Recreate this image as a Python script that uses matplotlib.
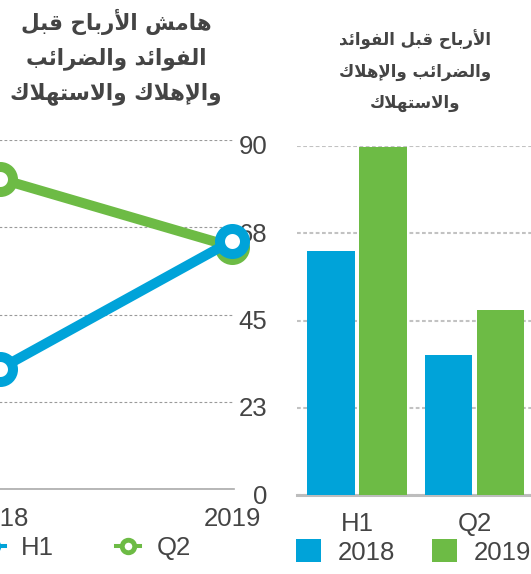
import matplotlib
matplotlib.use("Agg")
import matplotlib.pyplot as plt
import matplotlib.transforms as mtransforms
from matplotlib.lines import Line2D

#---------------------------------------------
'''DATA'''
#---------------------------------------------
years = ['2018', '2019']
h1_margin = [31, 64]
q2_margin = [80, 62.5]

periods = ['H1', 'Q2']
ebitda_2018 = [63, 36]
ebitda_2019 = [89.7, 47.7]

y_ticks = [0, 22.5, 45, 67.5, 90]
y_tick_labels = ['0', '23', '45', '68', '90']

title_left = ['هامش الأرباح قبل', 'الفوائد والضرائب', 'والإهلاك والاستهلاك']
title_right = ['الأرباح قبل الفوائد', 'والضرائب والإهلاك', 'والاستهلاك']

blue = '#00a3d9'
green = '#6dbb45'
txt = '#444444'

#---------------------------------------------
'''ARABIC SHAPING (no bidi libs available)'''
#---------------------------------------------
# iso, final, initial, medial
FORMS = {
    '\u0627': ('\uFE8D', '\uFE8E', None, None),
    '\u0623': ('\uFE83', '\uFE84', None, None),
    '\u0625': ('\uFE87', '\uFE88', None, None),
    '\u0628': ('\uFE8F', '\uFE90', '\uFE91', '\uFE92'),
    '\u062A': ('\uFE95', '\uFE96', '\uFE97', '\uFE98'),
    '\u062D': ('\uFEA1', '\uFEA2', '\uFEA3', '\uFEA4'),
    '\u062F': ('\uFEA9', '\uFEAA', None, None),
    '\u0631': ('\uFEAD', '\uFEAE', None, None),
    '\u0633': ('\uFEB1', '\uFEB2', '\uFEB3', '\uFEB4'),
    '\u0634': ('\uFEB5', '\uFEB6', '\uFEB7', '\uFEB8'),
    '\u0636': ('\uFEBD', '\uFEBE', '\uFEBF', '\uFEC0'),
    '\u0641': ('\uFED1', '\uFED2', '\uFED3', '\uFED4'),
    '\u0642': ('\uFED5', '\uFED6', '\uFED7', '\uFED8'),
    '\u0643': ('\uFED9', '\uFEDA', '\uFEDB', '\uFEDC'),
    '\u0644': ('\uFEDD', '\uFEDE', '\uFEDF', '\uFEE0'),
    '\u0645': ('\uFEE1', '\uFEE2', '\uFEE3', '\uFEE4'),
    '\u0647': ('\uFEE9', '\uFEEA', '\uFEEB', '\uFEEC'),
    '\u0648': ('\uFEED', '\uFEEE', None, None),
    '\u0626': ('\uFE89', '\uFE8A', '\uFE8B', '\uFE8C'),
}
LAM_ALEF = {'\u0627': ('\uFEFB', '\uFEFC'),
            '\u0623': ('\uFEF7', '\uFEF8'),
            '\u0625': ('\uFEF9', '\uFEFA')}


def dual(c):
    return c in FORMS and FORMS[c][2] is not None


def shape(text):
    out = []
    i, n = 0, len(text)
    while i < n:
        c = text[i]
        if c not in FORMS:
            out.append(c)
            i += 1
            continue
        join_prev = i > 0 and dual(text[i - 1])
        if c == '\u0644' and i + 1 < n and text[i + 1] in LAM_ALEF:
            iso, fin = LAM_ALEF[text[i + 1]]
            out.append(fin if join_prev else iso)
            i += 2
            continue
        join_next = dual(c) and i + 1 < n and text[i + 1] in FORMS
        iso, fin, ini, med = FORMS[c]
        if join_prev and join_next:
            out.append(med)
        elif join_prev:
            out.append(fin)
        elif join_next:
            out.append(ini)
        else:
            out.append(iso)
        i += 1
    return ''.join(reversed(out))


#---------------------------------------------
'''LAYOUT HELPERS (pixel -> figure fraction)'''
#---------------------------------------------
W, H = 531, 574
fig = plt.figure(figsize=(W / 100, H / 100), dpi=100)
plt.rcParams['font.family'] = ['Liberation Sans', 'DejaVu Sans']


def fx(px):
    return px / W


def fy(py):
    return 1 - py / H


fs = 18.5

#---------------------------------------------
'''LEFT: LINE CHART'''
#---------------------------------------------
ax1 = fig.add_axes([fx(-270), fy(489), (234 + 270) / W, (489 - 140) / H])
ax1.set_xlim(-270 / 232, 234 / 232)
ax1.set_ylim(0, 90)
x = range(len(years))
ax1.plot(x, q2_margin, color=green, lw=7.2, marker='o', ms=18, mew=7.2,
         mfc='white', mec=green, clip_on=False, zorder=3)
ax1.plot(x, h1_margin, color=blue, lw=7.2, marker='o', ms=18, mew=7.2,
         mfc='white', mec=blue, clip_on=False, zorder=4)
ax1.set_xticks(list(x), years)
ax1.yaxis.tick_right()
ax1.set_yticks(y_ticks, y_tick_labels)
ax1.tick_params(axis='y', length=0, pad=24, labelsize=fs, labelcolor=txt)
ax1.tick_params(axis='x', length=0, pad=13, labelsize=fs, labelcolor=txt)
off = mtransforms.ScaledTranslation(0, -5 / 100, fig.dpi_scale_trans)
for lab in ax1.get_yticklabels():
    lab.set_ha('right')
    lab.set_transform(lab.get_transform() + off)
ax1.grid(axis='y', color='#9a9a9a', lw=0.8, ls=(0, (2.5, 2)))
ax1.grid(axis='x', visible=False)
for s in ['top', 'left', 'right']:
    ax1.spines[s].set_visible(False)
ax1.spines['bottom'].set_color('#aaaaaa')
ax1.spines['bottom'].set_linewidth(1.2)
ax1.set_facecolor('none')

handles1 = [Line2D([], [], color=blue, lw=2.9, marker='o', ms=9, mew=3.5,
                   mfc='white', mec=blue),
            Line2D([], [], color=green, lw=2.9, marker='o', ms=9, mew=3.5,
                   mfc='white', mec=green)]
fig.legend(handles1, periods, loc='center left',
           bbox_to_anchor=(fx(-20), fy(548)), ncol=2, frameon=False,
           fontsize=fs, handlelength=0.97, handletextpad=0.62,
           columnspacing=2.4, borderpad=0, borderaxespad=0, labelcolor=txt)

fig.text(fx(116), fy(57), '\n'.join(shape(t) for t in title_left),
         ha='center', va='center', multialignment='center',
         fontsize=15.5, fontweight='bold', color=txt, linespacing=1.72,
         family='DejaVu Sans')

#---------------------------------------------
'''RIGHT: BAR CHART'''
#---------------------------------------------
ax2 = fig.add_axes([fx(297), fy(495), (640 - 297) / W, (495 - 146) / H])
ax2.set_xlim(-60 / 117.5, 283 / 117.5)
ax2.set_ylim(0, 90)
xb = range(len(periods))
bw = 47.5 / 117.5
b1 = ax2.bar([i - 26 / 117.5 for i in xb], ebitda_2018, bw, color=blue,
             zorder=3)
b2 = ax2.bar([i + 26 / 117.5 for i in xb], ebitda_2019, bw, color=green,
             zorder=3)
ax2.set_xticks(list(xb), periods)
ax2.set_yticks(y_ticks)
ax2.tick_params(axis='y', length=0, labelleft=False)
ax2.tick_params(axis='x', length=0, pad=12, labelsize=fs, labelcolor=txt)
ax2.grid(axis='y', color='#c2c2c2', lw=1.5, ls=(0, (1.8, 1.2)), zorder=0)
ax2.grid(axis='x', visible=False)
for s in ['top', 'left', 'right']:
    ax2.spines[s].set_visible(False)
ax2.spines['bottom'].set_color('#bdbdbd')
ax2.spines['bottom'].set_linewidth(2.2)
ax2.set_facecolor('none')

fig.legend([b1, b2], years, loc='center left',
           bbox_to_anchor=(fx(296), fy(552)), ncol=2, frameon=False,
           fontsize=fs, handlelength=0.97, handleheight=1.01,
           handletextpad=0.65, columnspacing=1.45, borderpad=0,
           borderaxespad=0, labelcolor=txt)

fig.text(fx(415), fy(71), '\n'.join(shape(t) for t in title_right),
         ha='center', va='center', multialignment='center',
         fontsize=12, fontweight='bold', color=txt, linespacing=1.95,
         family='DejaVu Sans')

fig.savefig('out.png', dpi=100)
